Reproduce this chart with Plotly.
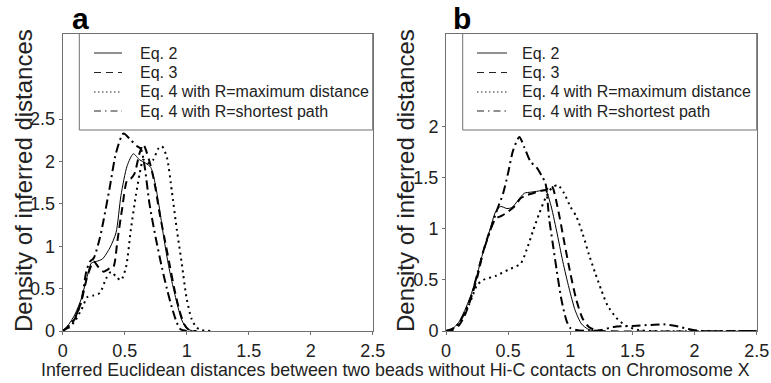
import plotly.graph_objects as go

# ---------------- data ----------------
a_eq2_x = [0, 0.05, 0.1, 0.15, 0.2, 0.23, 0.27, 0.32, 0.38, 0.43, 0.47, 0.52, 0.57, 0.62, 0.67, 0.71, 0.74, 0.78, 0.81, 0.85, 0.89, 0.93, 0.96, 1.0, 1.05]
a_eq2_y = [0, 0.08, 0.2, 0.38, 0.66, 0.8, 0.82, 0.85, 0.98, 1.16, 1.6, 1.95, 2.09, 2.02, 1.98, 1.93, 1.78, 1.45, 1.15, 0.8, 0.52, 0.28, 0.13, 0.03, 0]

a_eq3_x = [0, 0.05, 0.1, 0.15, 0.2, 0.25, 0.29, 0.33, 0.38, 0.41, 0.44, 0.48, 0.52, 0.55, 0.58, 0.62, 0.65, 0.7, 0.74, 0.78, 0.82, 0.86, 0.9, 0.94, 0.98, 1.02, 1.08]
a_eq3_y = [0, 0.05, 0.15, 0.35, 0.65, 0.82, 0.75, 0.7, 0.74, 0.76, 1.05, 1.45, 1.78, 1.8, 1.86, 2.1, 2.2, 2.0, 1.75, 1.4, 1.1, 0.8, 0.5, 0.25, 0.08, 0.01, 0]

a_max_x = [0, 0.05, 0.1, 0.15, 0.2, 0.25, 0.3, 0.35, 0.39, 0.43, 0.47, 0.51, 0.55, 0.59, 0.62, 0.65, 0.69, 0.73, 0.77, 0.8, 0.84, 0.88, 0.92, 0.96, 1.0, 1.04, 1.08, 1.12, 1.2]
a_max_y = [0, 0.04, 0.12, 0.25, 0.4, 0.42, 0.45, 0.62, 0.7, 0.64, 0.6, 0.75, 1.2, 1.6, 1.85, 2.02, 1.98, 2.02, 2.15, 2.18, 2.05, 1.65, 1.2, 0.8, 0.38, 0.14, 0.04, 0.01, 0]

a_sp_x = [0, 0.05, 0.1, 0.15, 0.19, 0.22, 0.25, 0.3, 0.33, 0.38, 0.43, 0.49, 0.55, 0.6, 0.63, 0.66, 0.7, 0.75, 0.8, 0.84, 0.88, 0.92, 0.95, 1.0]
a_sp_y = [0, 0.06, 0.16, 0.35, 0.7, 0.82, 0.86, 1.1, 1.31, 1.7, 2.1, 2.33, 2.25, 2.18, 2.15, 1.95, 1.5, 1.1, 0.75, 0.5, 0.28, 0.1, 0.02, 0]

b_eq2_x = [0, 0.05, 0.1, 0.15, 0.2, 0.25, 0.3, 0.35, 0.4, 0.44, 0.49, 0.53, 0.58, 0.63, 0.68, 0.74, 0.8, 0.84, 0.89, 0.94, 0.99, 1.04, 1.09, 1.14, 1.2, 2.5]
b_eq2_y = [0, 0.02, 0.08, 0.2, 0.35, 0.55, 0.78, 0.98, 1.17, 1.22, 1.2, 1.21, 1.28, 1.35, 1.36, 1.37, 1.38, 1.25, 0.98, 0.68, 0.42, 0.2, 0.07, 0.02, 0, 0]

b_eq3_x = [0, 0.05, 0.1, 0.15, 0.2, 0.25, 0.3, 0.35, 0.4, 0.45, 0.5, 0.55, 0.6, 0.65, 0.7, 0.75, 0.8, 0.85, 0.9, 0.95, 1.0, 1.05, 1.1, 1.15, 1.2, 1.25, 2.5]
b_eq3_y = [0, 0.01, 0.05, 0.15, 0.32, 0.52, 0.78, 0.97, 1.1, 1.13, 1.17, 1.22, 1.3, 1.33, 1.35, 1.37, 1.38, 1.42, 1.2, 0.88, 0.57, 0.3, 0.12, 0.04, 0.01, 0, 0]

b_max_x = [0, 0.05, 0.1, 0.15, 0.2, 0.25, 0.3, 0.4, 0.5, 0.6, 0.65, 0.7, 0.75, 0.8, 0.85, 0.9, 0.95, 1.0, 1.05, 1.1, 1.15, 1.2, 1.25, 1.3, 1.37, 1.45, 1.55, 1.65, 2.5]
b_max_y = [0, 0.02, 0.07, 0.17, 0.3, 0.45, 0.5, 0.54, 0.6, 0.66, 0.8, 0.98, 1.15, 1.3, 1.4, 1.43, 1.35, 1.22, 1.12, 0.95, 0.75, 0.57, 0.4, 0.25, 0.13, 0.05, 0.01, 0, 0]

b_sp_x = [0, 0.05, 0.1, 0.15, 0.2, 0.25, 0.3, 0.35, 0.4, 0.46, 0.5, 0.54, 0.59, 0.63, 0.68, 0.73, 0.77, 0.8, 0.83, 0.86, 0.89, 0.93, 0.97, 1.0, 1.05, 1.15, 1.25, 1.35, 1.5, 1.65, 1.75, 1.85, 1.95, 2.05, 2.5]
b_sp_y = [0, 0.02, 0.07, 0.18, 0.33, 0.55, 0.78, 0.96, 1.15, 1.35, 1.55, 1.77, 1.9, 1.8, 1.66, 1.6, 1.52, 1.45, 1.1, 0.85, 0.6, 0.3, 0.1, 0.03, 0.01, 0, 0.01, 0.04, 0.05, 0.06, 0.065, 0.05, 0.02, 0, 0]

series_names = ["Eq. 2", "Eq. 3", "Eq. 4 with R=maximum distance", "Eq. 4 with R=shortest path"]
x_ticks = [0, 0.5, 1, 1.5, 2, 2.5]
x_ticklabels = ["0", "0.5", "1", "1.5", "2", "2.5"]
a_yticks = [0, 0.5, 1, 1.5, 2, 2.5]
b_yticks = [0, 0.5, 1, 1.5, 2]

# ---------------- styling ----------------
styles = [dict(width=1, dash="solid"),
          dict(width=2, dash="8px,5px"),
          dict(width=2, dash="2px,4px"),
          dict(width=2, dash="9px,4px,2px,4px")]
legend_dash = ["solid", "7px,5px", "1.5px,2.5px", "7px,4px,1.5px,4px"]

W, H = 771, 383
def px_x(p): return p / W
def px_y(p): return 1 - p / H

fig = go.Figure()
panels = [
    ("x", "y", [(a_eq2_x, a_eq2_y), (a_eq3_x, a_eq3_y), (a_max_x, a_max_y), (a_sp_x, a_sp_y)]),
    ("x2", "y2", [(b_eq2_x, b_eq2_y), (b_eq3_x, b_eq3_y), (b_max_x, b_max_y), (b_sp_x, b_sp_y)]),
]
for xa, ya, data in panels:
    for (xs, ys), name, st in zip(data, series_names, styles):
        fig.add_trace(go.Scatter(x=xs, y=ys, mode="lines", name=name, xaxis=xa, yaxis=ya,
                                 showlegend=False,
                                 line=dict(color="black", shape="spline", smoothing=0.7, **st)))

font_main = "Liberation Sans, Arial, sans-serif"
top_px, bot_px = 33.5, 331
ax_common = dict(showline=True, linecolor="#707070", linewidth=1, mirror=True, ticks="outside",
                 ticklen=3, tickcolor="#707070", showgrid=False, zeroline=False, automargin=False,
                 tickfont=dict(family=font_main, size=18, color="#222"))

fig.update_layout(
    width=W, height=H, margin=dict(l=0, r=0, t=0, b=0, pad=0, autoexpand=False),
    paper_bgcolor="white", plot_bgcolor="white", showlegend=False,
    xaxis=dict(domain=[px_x(62.7), px_x(372.7)], range=[0, 2.5], tickvals=x_ticks, ticktext=x_ticklabels, anchor="y", **ax_common),
    yaxis=dict(domain=[px_y(bot_px), px_y(top_px)], range=[0, 3.51], tickvals=a_yticks, anchor="x", **ax_common),
    xaxis2=dict(domain=[px_x(446), px_x(756.7)], range=[0, 2.5], tickvals=x_ticks, ticktext=x_ticklabels, anchor="y2", **ax_common),
    yaxis2=dict(domain=[px_y(bot_px), px_y(top_px)], range=[0, 2.915], tickvals=b_yticks, anchor="x2", **ax_common),
)

# legend boxes with entries (sample line + label)
legend_rows = [53, 72.5, 92, 111]
for box_x0, box_x1, s0, s1, tx in [(79.3, 372.7, 94, 122, 138), (462.7, 756.7, 477, 507, 520)]:
    fig.add_shape(type="rect", xref="paper", yref="paper", x0=px_x(box_x0), x1=px_x(box_x1),
                  y0=px_y(130), y1=px_y(top_px), line=dict(color="#707070", width=1),
                  fillcolor="rgba(0,0,0,0)")
    for row, name, dsh in zip(legend_rows, series_names, legend_dash):
        fig.add_shape(type="line", xref="paper", yref="paper", x0=px_x(s0), x1=px_x(s1),
                      y0=px_y(row), y1=px_y(row),
                      line=dict(color="#222", width=1, dash=dsh))
        fig.add_annotation(text=name, xref="paper", yref="paper", x=px_x(tx), y=px_y(row),
                           showarrow=False, xanchor="left", yanchor="middle",
                           font=dict(family=font_main, size=16, color="#222"))

# panel labels
for lbl, cx in [("a", 80), ("b", 462)]:
    fig.add_annotation(text="<b>%s</b>" % lbl, xref="paper", yref="paper", x=px_x(cx), y=px_y(18),
                       showarrow=False, font=dict(family=font_main, size=30, color="black"),
                       xanchor="center", yanchor="middle")

# y-axis titles
for cx in [23, 405]:
    fig.add_annotation(text="Density of inferred distances", xref="paper", yref="paper",
                       x=px_x(cx), y=px_y(181), textangle=-90, showarrow=False,
                       font=dict(family=font_main, size=24, color="#222"),
                       xanchor="center", yanchor="middle")

# shared x-axis title
fig.add_annotation(text="Inferred Euclidean distances between two beads without Hi-C contacts on Chromosome X",
                   xref="paper", yref="paper", x=px_x(396), y=px_y(370), showarrow=False,
                   font=dict(family=font_main, size=17.8, color="#222"), xanchor="center", yanchor="middle")

fig.write_html("out.html")
